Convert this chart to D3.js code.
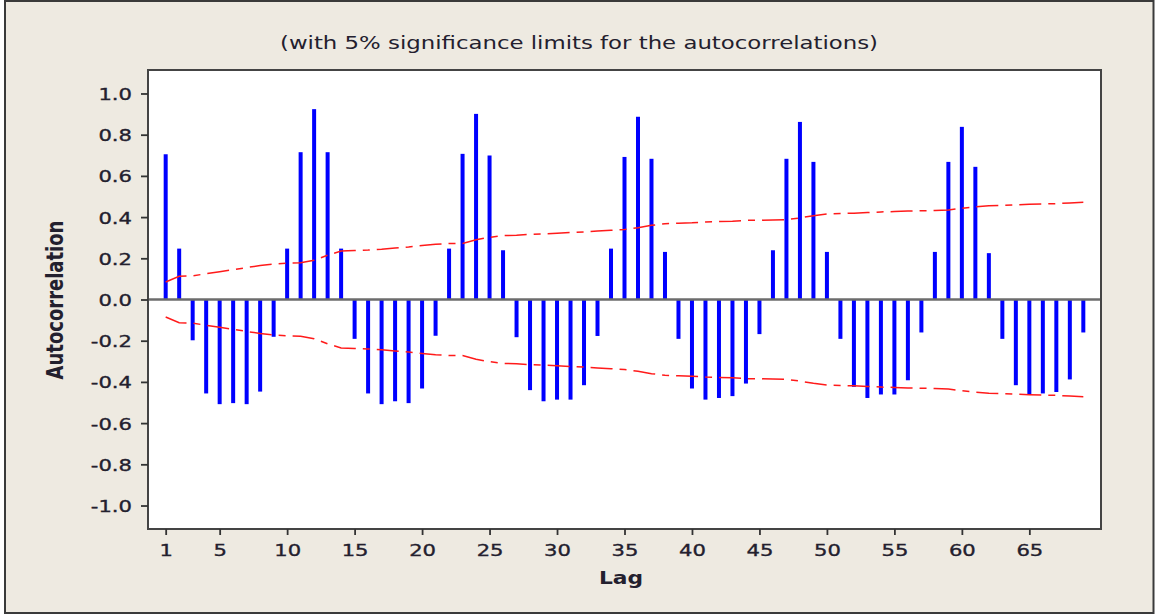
<!DOCTYPE html>
<html>
<head>
<meta charset="utf-8">
<script src="https://cdn.jsdelivr.net/npm/d3@7"></script>
<style>
  html, body { margin: 0; padding: 0; background: #ffffff; }
  svg { display: block; }
  text { font-family: "DejaVu Sans", Verdana, sans-serif; fill: #23202e; }
</style>
</head>
<body>
<svg id="chart" width="1155" height="615"></svg>
<script>
// Sample autocorrelations, lags 1..69
const acf = [
   0.705,  0.247, -0.198, -0.456, -0.508, -0.503, -0.508, -0.447, -0.181,  0.247,
   0.715,  0.924,  0.715,  0.247, -0.191, -0.456, -0.508, -0.494, -0.503, -0.432,
  -0.176,  0.247,  0.707,  0.901,  0.699,  0.239, -0.183, -0.440, -0.494, -0.486,
  -0.486, -0.416, -0.177,  0.247,  0.692,  0.887,  0.683,  0.231, -0.191, -0.432,
  -0.486, -0.478, -0.469, -0.408, -0.168,  0.239,  0.683,  0.862,  0.668,  0.231,
  -0.191, -0.424, -0.478, -0.461, -0.461, -0.392, -0.160,  0.231,  0.668,  0.838,
   0.644,  0.225, -0.191, -0.416, -0.461, -0.456, -0.449, -0.388, -0.160
];

// Upper 5% significance limit per lag (the lower limit is its mirror)
const limit = [
  0.085, 0.113, 0.115, 0.125, 0.135, 0.145, 0.155, 0.165, 0.172, 0.176,
  0.178, 0.190, 0.215, 0.235, 0.238, 0.240, 0.244, 0.250, 0.255, 0.262,
  0.268, 0.272, 0.272, 0.290, 0.302, 0.310, 0.312, 0.316, 0.318, 0.322,
  0.325, 0.328, 0.332, 0.336, 0.340, 0.348, 0.360, 0.368, 0.370, 0.372,
  0.376, 0.378, 0.380, 0.384, 0.385, 0.386, 0.388, 0.396, 0.407, 0.415,
  0.417, 0.419, 0.422, 0.425, 0.427, 0.429, 0.431, 0.432, 0.434, 0.443,
  0.450, 0.455, 0.457, 0.459, 0.462, 0.464, 0.465, 0.469, 0.472
];

const xTicks = [1, 5, 10, 15, 20, 25, 30, 35, 40, 45, 50, 55, 60, 65];
const yTicks = [-1.0, -0.8, -0.6, -0.4, -0.2, 0.0, 0.2, 0.4, 0.6, 0.8, 1.0];
const yTickLabels = ["-1.0", "-0.8", "-0.6", "-0.4", "-0.2", "0.0", "0.2", "0.4", "0.6", "0.8", "1.0"];

const titleText = "(with 5% significance limits for the autocorrelations)";
const xTitle = "Lag";
const yTitle = "Autocorrelation";

// ---- layout ----
const plot = { left: 148, right: 1101, top: 70, bottom: 529 };
const STRETCH = 1.28;           // horizontal widening of the lettering
const ink = "#23202e";

const svg = d3.select("#chart");

// panel background and frame
svg.append("rect")
  .attr("x", 5).attr("y", 1)
  .attr("width", 1148.5).attr("height", 612)
  .attr("fill", "#eeeae1")
  .attr("stroke", "#3a3a3a")
  .attr("stroke-width", 2);

// plotting region
svg.append("rect")
  .attr("x", plot.left).attr("y", plot.top)
  .attr("width", plot.right - plot.left).attr("height", plot.bottom - plot.top)
  .attr("fill", "#ffffff");

const lags = d3.range(1, acf.length + 1);

const x = d3.scaleLinear().domain([-0.31, 70.31]).range([plot.left, plot.right]);
const y = d3.scaleLinear().domain([-1.114, 1.114]).range([plot.bottom, plot.top]);

// autocorrelation spikes
svg.append("g")
  .selectAll("rect")
  .data(lags)
  .join("rect")
  .attr("x", d => x(d) - 2)
  .attr("width", 4)
  .attr("y", d => y(Math.max(0, acf[d - 1])))
  .attr("height", d => Math.abs(y(acf[d - 1]) - y(0)))
  .attr("fill", "#0000ff");

// zero reference line
svg.append("line")
  .attr("x1", plot.left).attr("x2", plot.right)
  .attr("y1", y(0)).attr("y2", y(0))
  .attr("stroke", "#6c6c6c")
  .attr("stroke-width", 2.4);

// significance limits
const limLine = d3.line().x(d => x(d)).y(d => y(limit[d - 1]));
const limLineLow = d3.line().x(d => x(d)).y(d => y(-limit[d - 1]));
[limLine, limLineLow].forEach(gen => {
  svg.append("path")
    .attr("d", gen(lags))
    .attr("fill", "none")
    .attr("stroke", "#ff1a1a")
    .attr("stroke-width", 1.5)
    .attr("stroke-dasharray", "22,7,7,7");
});

// plot frame
svg.append("rect")
  .attr("x", plot.left).attr("y", plot.top)
  .attr("width", plot.right - plot.left).attr("height", plot.bottom - plot.top)
  .attr("fill", "none")
  .attr("stroke", "#444444")
  .attr("stroke-width", 2);

// y axis
const yAxis = svg.append("g")
  .attr("transform", `translate(${plot.left},0)`)
  .call(d3.axisLeft(y).tickValues(yTicks).tickSize(7).tickFormat((d, i) => yTickLabels[i]));
yAxis.select(".domain").remove();
yAxis.attr("font-size", 16.5).attr("font-family", "DejaVu Sans, Verdana, sans-serif").style("color", ink);
yAxis.selectAll(".tick line").attr("stroke", "#333333").attr("stroke-width", 1.8);
yAxis.selectAll(".tick text")
  .attr("x", 0).attr("dy", "0.36em")
  .attr("stroke", ink).attr("stroke-width", 0.35)
  .attr("transform", `translate(-16,0) scale(${STRETCH},1)`);

// x axis
const xAxis = svg.append("g")
  .attr("transform", `translate(0,${plot.bottom})`)
  .call(d3.axisBottom(x).tickValues(xTicks).tickSize(6).tickFormat(d3.format("d")));
xAxis.select(".domain").remove();
xAxis.attr("font-size", 16.5).attr("font-family", "DejaVu Sans, Verdana, sans-serif").style("color", ink);
xAxis.selectAll(".tick line").attr("stroke", "#333333").attr("stroke-width", 1.8);
xAxis.selectAll(".tick text")
  .attr("y", 0).attr("dy", 0)
  .attr("stroke", ink).attr("stroke-width", 0.35)
  .attr("transform", `translate(0,27) scale(${STRETCH},1)`);

// title
svg.append("text")
  .attr("x", 579).attr("y", 49)
  .attr("text-anchor", "middle")
  .attr("font-size", 18)
  .attr("textLength", 598)
  .attr("lengthAdjust", "spacingAndGlyphs")
  .text(titleText);

// axis titles
svg.append("text")
  .attr("transform", `translate(621,584) scale(${STRETCH},1)`)
  .attr("text-anchor", "middle")
  .attr("font-size", 17)
  .attr("font-weight", "bold")
  .attr("fill", "#111")
  .text(xTitle);

svg.append("text")
  .attr("transform", `translate(63,300) scale(${STRETCH},1) rotate(-90)`)
  .attr("text-anchor", "middle")
  .attr("font-size", 18)
  .attr("font-weight", "bold")
  .attr("fill", "#111")
  .text(yTitle);
</script>
</body>
</html>
